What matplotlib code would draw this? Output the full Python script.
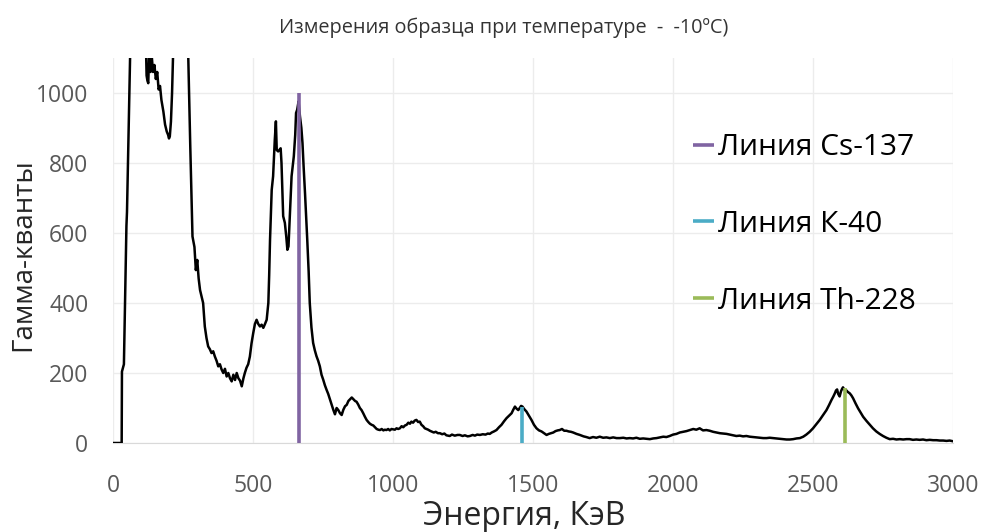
import matplotlib
matplotlib.use("Agg")
import matplotlib.pyplot as plt

plt.rcParams['font.family'] = ['Open Sans', 'DejaVu Sans']

title = "Измерения образца при температуре  -  -10ºC)"
x_label = "Энергия, КэВ"
y_label = "Гамма-кванты"

energy = [0, 30, 31, 38, 47, 49, 60, 65, 80, 100, 115,
          119, 122, 125, 128, 133, 138, 142, 147, 152, 157, 162, 167, 172, 179, 185, 191, 196, 199, 202, 206, 210, 214,
          220, 240, 260, 268, 275, 283, 290, 295, 300, 305, 310, 315, 321, 327, 333, 339, 345, 351, 357, 363, 369, 375,
          381, 387, 393, 399, 405, 411, 417, 423, 429, 435, 441, 447, 453, 459, 465, 470, 476, 482, 488, 494, 500, 506,
          512, 518, 524, 530, 536, 542, 548, 554, 557, 560, 566, 571, 575, 577, 581, 584, 589, 594, 598, 601, 604, 607,
          613, 618, 622, 626, 631, 637, 645, 650, 653, 657, 662, 667, 672, 676, 680, 685, 693, 698, 702, 708, 714, 720,
          726, 732, 738, 744, 750, 756, 762, 768, 774, 780, 786, 792, 798, 804, 810, 816, 822, 828, 834, 840, 846, 852,
          858, 864, 869, 875, 881, 887, 893, 899, 905, 911, 917, 923, 929, 935, 941, 947, 953, 959, 965, 970, 976, 982,
          988, 994, 1000, 1006, 1012, 1018, 1024, 1030, 1036, 1042, 1048, 1054, 1060, 1065, 1071, 1077, 1083, 1089,
          1095, 1101, 1107, 1113, 1119, 1125, 1131, 1137, 1145, 1152, 1160, 1167, 1175, 1183, 1190, 1202, 1210, 1220,
          1230, 1238, 1248, 1256, 1266, 1274, 1284, 1292, 1300, 1310, 1320, 1330, 1338, 1345, 1352, 1360, 1369, 1378,
          1387, 1396, 1405, 1414, 1423, 1429, 1435, 1441, 1447, 1452, 1457, 1462, 1468, 1476, 1485, 1494, 1503, 1512,
          1521, 1530, 1539, 1548, 1556, 1564, 1572, 1580, 1588, 1595, 1603, 1611, 1619, 1627, 1635, 1643, 1655, 1667,
          1680, 1690, 1702, 1714, 1726, 1738, 1750, 1762, 1774, 1786, 1798, 1810, 1822, 1834, 1845, 1857, 1869, 1881,
          1893, 1905, 1917, 1929, 1941, 1953, 1965, 1976, 1988, 2000, 2012, 2024, 2036, 2048, 2060, 2072, 2083, 2095,
          2107, 2119, 2131, 2143, 2155, 2167, 2179, 2191, 2203, 2215, 2226, 2238, 2250, 2262, 2274, 2286, 2298, 2310,
          2322, 2334, 2345, 2357, 2369, 2381, 2393, 2405, 2417, 2429, 2441, 2453, 2465, 2476, 2488, 2500, 2512, 2524,
          2536, 2548, 2557, 2566, 2572, 2578, 2582, 2586, 2590, 2595, 2600, 2604, 2607, 2612, 2617, 2624, 2631, 2637,
          2643, 2652, 2661, 2670, 2679, 2691, 2703, 2714, 2726, 2738, 2750, 2762, 2774, 2786, 2798, 2810, 2822, 2834,
          2845, 2857, 2869, 2881, 2893, 2905, 2917, 2929, 2941, 2953, 2965, 2977, 2988, 3000]

counts = [0, 0, 204, 225, 620, 660, 1100, 1400, 1600, 1500, 1200,
          1050, 1035, 1028, 1110, 1060, 1100, 1060, 1080, 1040, 1060, 1010, 1020, 980, 947, 910, 890, 880, 870, 876, 918, 1000, 1120,
          1600, 1700, 1300, 1100, 850, 590, 560, 494, 523, 470, 437, 420, 400, 333, 300, 276, 268, 257, 262, 247, 235, 219,
          225, 210, 200, 212, 190, 200, 185, 176, 195, 180, 200, 185, 178, 162, 185, 200, 215, 225, 247, 285, 314, 340,
          352, 340, 333, 338, 329, 340, 352, 400, 480, 580, 723, 762, 830, 866, 919, 837, 833, 838, 842, 800, 720, 648,
          629, 590, 552, 562, 650, 762, 819, 880, 943, 952, 976, 933, 900, 857, 790, 714, 581, 490, 400, 330, 286, 265,
          248, 235, 219, 195, 181, 165, 152, 140, 125, 110, 95, 82, 100, 94, 85, 80, 95, 105, 109, 120, 125, 130,
          125, 120, 118, 110, 100, 94, 85, 75, 66, 60, 55, 52, 50, 45, 40, 38, 37, 40, 36, 38, 37, 40,
          36, 40, 39, 38, 42, 40, 42, 48, 45, 50, 52, 58, 55, 61, 58, 64, 66, 60,
          61, 52, 48, 42, 40, 38, 35, 33, 30, 32, 28, 28, 25, 27, 22, 20, 24, 21,
          23, 23, 20, 22, 19, 20, 23, 21, 24, 23, 25, 24, 27, 26, 30, 33, 37, 45,
          52, 62, 71, 78, 85, 95, 104, 98, 94, 100, 106, 104, 97, 90, 78, 66, 52, 42,
          36, 33, 28, 23, 26, 28, 30, 34, 36, 37, 40, 35, 35, 33, 32, 30, 26, 23,
          19, 17, 14, 17, 15, 18, 15, 16, 14, 16, 14, 14, 15, 13, 14, 13, 15, 12,
          13, 12, 11, 13, 14, 16, 18, 17, 20, 24, 26, 30, 32, 34, 37, 40, 38, 42,
          36, 37, 35, 32, 30, 28, 27, 26, 24, 22, 20, 21, 19, 20, 18, 17, 16, 15,
          14, 14, 15, 14, 13, 12, 11, 10, 10, 11, 13, 14, 18, 24, 32, 42, 54, 66,
          80, 94, 108, 123, 132, 142, 150, 153, 140, 133, 148, 155, 159, 152, 152, 146, 142, 136,
          128, 113, 99, 87, 75, 63, 52, 42, 33, 26, 20, 15, 11, 12, 10, 11, 10, 11,
          11, 9, 10, 9, 10, 8, 9, 8, 8, 7, 7, 6, 7, 5]

line_names = ["Линия Cs-137", "Линия К-40", "Линия Th-228"]
line_energy = [662, 1460, 2614]
line_height = [1000, 104, 157]
line_colors = ["#8064A2", "#4BACC6", "#9BBB59"]

x_ticks = [0, 500, 1000, 1500, 2000, 2500, 3000]
y_ticks = [0, 200, 400, 600, 800, 1000]

fig = plt.figure(figsize=(9.85, 5.32), dpi=100)
ax = fig.add_axes([0.115, 0.1673, 0.8525, 0.7237])

ax.plot(energy, counts, color="black", lw=1.8, zorder=3)
for name, e, h, c in zip(line_names, line_energy, line_height, line_colors):
    ax.plot([e, e], [0, h], color=c, lw=2.6, label=name, zorder=4, solid_capstyle='butt')

ax.set_xlim(0, 3000)
ax.set_ylim(0, 1100)
ax.set_xticks(x_ticks)
ax.set_yticks(y_ticks)
ax.grid(True, color="#ececec", lw=1.0, zorder=0)
for s in ["top", "right", "left"]:
    ax.spines[s].set_visible(False)
ax.spines["bottom"].set_color("#d9d9d9")
ax.tick_params(length=0, labelsize=16.5, labelcolor="#595959")
ax.tick_params(axis="y", pad=18)
ax.tick_params(axis="x", pad=22)

ax.set_ylabel(y_label, fontsize=20, color="#262626")
ax.yaxis.label.set_va("center")
ax.yaxis.set_label_coords(-0.107, 0.49)
ax.set_xlabel(x_label, fontsize=23, color="#262626")
ax.xaxis.set_label_coords(0.49, -0.19)
ax.xaxis.label.set_va("center")

fig.text(0.511, 0.947, title, fontsize=14.3, color="#333333", ha="center", va="center")

leg = ax.legend(loc="upper left", bbox_to_anchor=(0.69, 0.805), frameon=False,
                fontsize=21.5, handlelength=0.7, handletextpad=0.15, labelspacing=1.6,
                borderaxespad=0, borderpad=0)
for t in leg.get_texts():
    t.set_color("black")

fig.savefig("out.png", dpi=100)
